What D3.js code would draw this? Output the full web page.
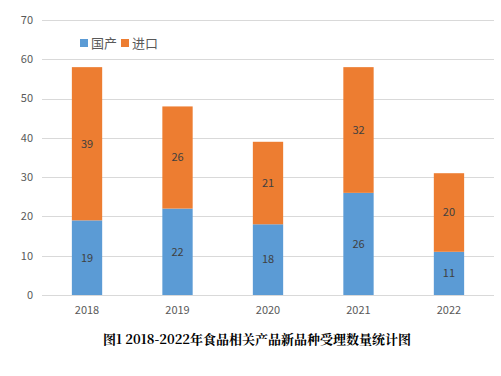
<!DOCTYPE html>
<html><head><meta charset="utf-8">
<script src="https://cdn.jsdelivr.net/npm/d3@7"></script>
<style>body{margin:0;background:#fff}svg{display:block}</style>
</head><body>
<script>
const years = ["2018","2019","2020","2021","2022"];
const domestic = [19,22,18,26,11];
const imported = [39,26,21,32,20];
const seriesNames = ["国产","进口"];
const yTicks = [0,10,20,30,40,50,60,70];
const title = "图1 2018-2022年食品相关产品新品种受理数量统计图";
const colors = ["#5B9BD5","#ED7D31"];

const W=501,H=376;
const svg=d3.select("body").append("svg").attr("width",W).attr("height",H);
const m={l:42,r:7,t:20,b:81};
const x=d3.scaleBand().domain(years).range([m.l,W-m.r]).paddingInner(0.665).paddingOuter(0.33);
const y=d3.scaleLinear().domain([0,70]).range([H-m.b,m.t]);

// grid
svg.append("g").selectAll("line").data(yTicks).join("line")
 .attr("x1",m.l).attr("x2",W-m.r).attr("y1",d=>Math.round(y(d))+0.5).attr("y2",d=>Math.round(y(d))+0.5)
 .attr("stroke","#d9d9d9").attr("stroke-width",1);
// y labels
svg.append("g").selectAll("text").data(yTicks).join("text")
 .attr("x",m.l-9).attr("y",d=>y(d)).attr("dy","0.35em").attr("text-anchor","end")
 .attr("font-family","'Microsoft YaHei','Noto Sans CJK SC',sans-serif").attr("font-size",11).attr("fill","#595959").text(d=>d);
// x labels
svg.append("g").selectAll("text").data(years).join("text")
 .attr("x",d=>x(d)+x.bandwidth()/2).attr("y",y(0)+19).attr("text-anchor","middle")
 .attr("font-family","'Noto Sans CJK SC',sans-serif").attr("font-size",11).attr("fill","#595959").text(d=>d);

const stack=years.map((yr,i)=>({yr,segs:[{v:domestic[i],y0:0,y1:domestic[i],c:colors[0]},{v:imported[i],y0:domestic[i],y1:domestic[i]+imported[i],c:colors[1]}]}));
const g=svg.append("g").selectAll("g").data(stack).join("g");
g.selectAll("rect").data(d=>d.segs.map(s=>({...s,yr:d.yr}))).join("rect")
 .attr("x",d=>x(d.yr)).attr("width",x.bandwidth())
 .attr("y",d=>y(d.y1)).attr("height",d=>y(d.y0)-y(d.y1)).attr("fill",d=>d.c);
g.selectAll("text").data(d=>d.segs.map(s=>({...s,yr:d.yr}))).join("text")
 .attr("x",d=>x(d.yr)+x.bandwidth()/2).attr("y",d=>y((d.y0+d.y1)/2)).attr("dy","0.35em")
 .attr("text-anchor","middle").attr("font-family","'Noto Sans CJK SC',sans-serif").attr("font-size",11).attr("fill","#404040").text(d=>d.v);

// legend
const lg=svg.append("g").attr("transform","translate(80,38)");
seriesNames.forEach((n,i)=>{
  const ox=i*41;
  lg.append("rect").attr("x",ox).attr("y",1).attr("width",8).attr("height",8).attr("fill",colors[i]);
  lg.append("text").attr("x",ox+11).attr("y",5).attr("dy","0.38em").attr("font-family","'Noto Sans CJK SC',sans-serif").attr("font-size",13).attr("fill","#595959").text(n);
});
// title
svg.append("text").attr("x",257).attr("y",339).attr("dy","0.35em").attr("text-anchor","middle")
 .attr("font-family","'Noto Serif CJK SC','Noto Sans CJK SC',serif").attr("font-weight","bold").attr("font-size",13).attr("fill","#000").text(title);
</script>
</body></html>
